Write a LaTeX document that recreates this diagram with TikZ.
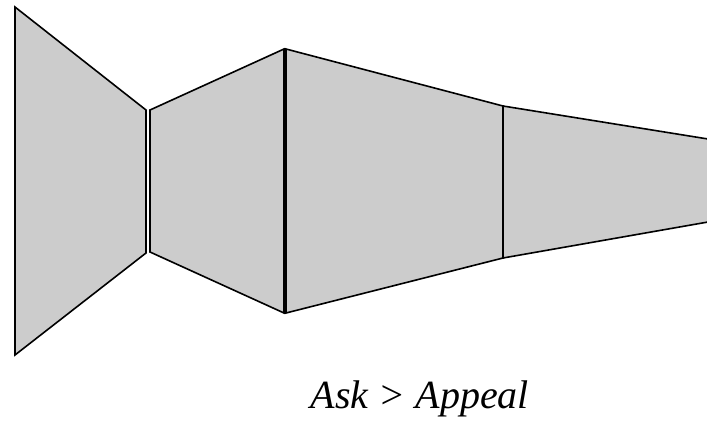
\documentclass[tikz,border=0pt]{standalone}
\usepackage{fontspec}
\setmainfont{Liberation Serif}
\begin{document}
\begin{tikzpicture}[x=1pt,y=-1pt,
  panel/.style={draw=black,fill=gray!40,line width=1.6pt,line join=miter},
  caption/.style={font=\fontsize{40}{44}\selectfont\itshape,anchor=base,inner sep=0pt}]
\useasboundingbox (0,0) rectangle (707,423);
\filldraw[panel] (15,7) -- (146,110) -- (146,253) -- (15,355) -- cycle;
\filldraw[panel] (150,110) -- (284,49) -- (284,313) -- (150,252) -- cycle;
\filldraw[panel] (286,49) -- (503,106) -- (503,258) -- (286,313) -- cycle;
\fill[gray!40] (503,106) -- (708,139) -- (708,222) -- (503,258) -- cycle;
\draw[line width=1.6pt] (708,139) -- (503,106) -- (503,258) -- (708,222);
\node[caption] (cap) at (420,408) {Ask > Appeal};
\end{tikzpicture}
\end{document}
